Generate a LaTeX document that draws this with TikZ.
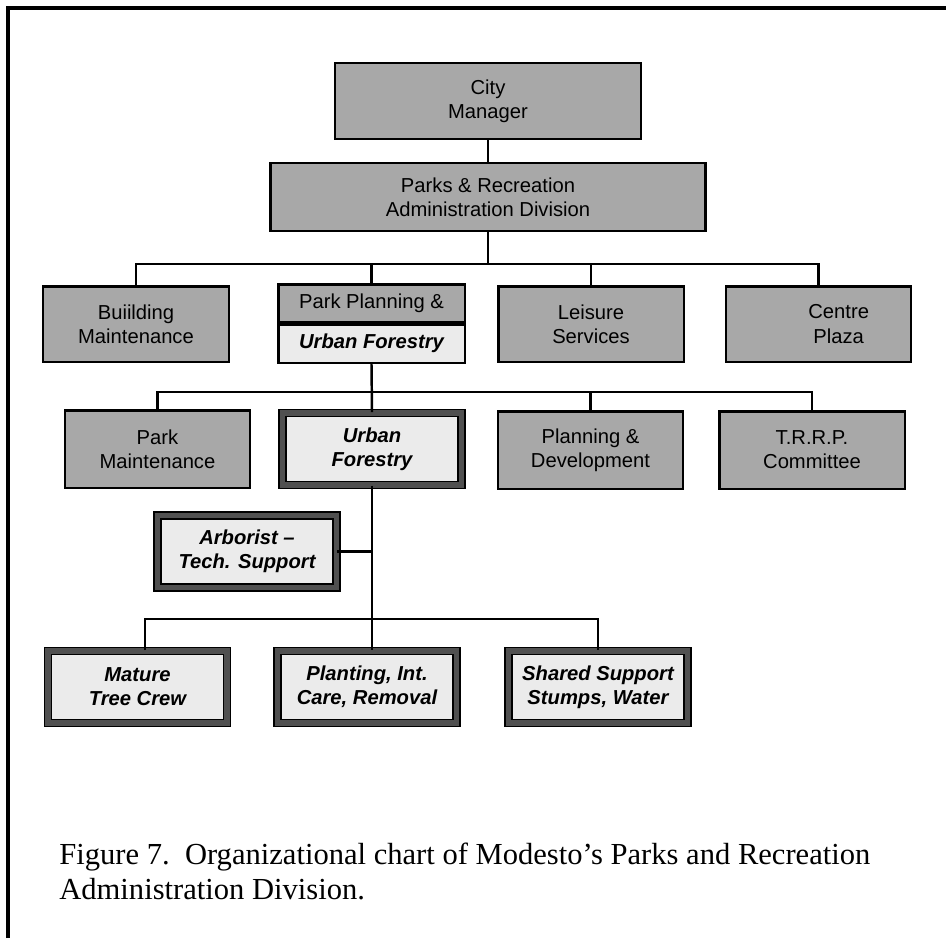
\documentclass[tikz,border=0pt]{standalone}
\usepackage{fontspec}
\setmainfont{Liberation Serif}
\newfontfamily\boxfont{Liberation Sans}
\usepackage{tikz}
\definecolor{boxgray}{RGB}{168,168,168}
\definecolor{palegray}{RGB}{235,235,235}
\definecolor{bandgray}{RGB}{80,80,80}
\tikzstyle{gbox}=[draw=black, line width=1.4pt, fill=boxgray, inner sep=0pt,
                  align=center, font=\boxfont\fontsize{11.5}{13.8}\selectfont]
\tikzstyle{fbox}=[draw=black, line width=1pt, double=bandgray, double distance=3pt,
                  fill=palegray, inner sep=0pt, align=center,
                  font=\boxfont\fontsize{11.5}{13.8}\selectfont\bfseries\itshape,
                  minimum width=3.58cm, minimum height=1.44cm]
\tikzstyle{conn}=[draw=black, line width=1.4pt]
\begin{document}
\begin{tikzpicture}[x=0.02cm, y=-0.02cm]

      \useasboundingbox (0,0) rectangle (946,938);
      \draw[line width=2pt] (8,938) -- (8,8) -- (946,8);

      \node[gbox, minimum width=6.13cm, minimum height=1.51cm] (cm) at (488,101) {City\\Manager};
      \node[gbox, minimum width=8.7cm, minimum height=1.35cm] (pr) at (488,197) {Parks \& Recreation\\Administration Division};

      \node[gbox, minimum width=3.71cm, minimum height=1.51cm] (bm) at (136,324) {Buiilding\\Maintenance};
      \node[gbox, minimum width=3.73cm, minimum height=0.76cm, anchor=south] (pp) at (371.5,323.5) {\raisebox{-1.2ex}{Park Planning \&}};
      \node[gbox, fill=palegray, minimum width=3.73cm, minimum height=0.76cm, anchor=north,
            font=\boxfont\fontsize{11.5}{13.8}\selectfont\bfseries\itshape] (ppu) at (371.5,323.5) {Urban Forestry};
      \node[gbox, minimum width=3.71cm, minimum height=1.51cm] (ls) at (591,324) {Leisure\\Services};
      \node[gbox, minimum width=3.71cm, minimum height=1.51cm] (cp) at (818.5,324) {\hspace{2em}Centre\\\hspace{2em}Plaza};

      \node[gbox, minimum width=3.71cm, minimum height=1.55cm] (pm) at (157.5,449) {Park\\Maintenance};
      \node[fbox] (uf) at (372,449) {Urban\\Forestry};
      \node[gbox, minimum width=3.71cm, minimum height=1.55cm] (pd) at (590.5,450) {Planning \&\\Development};
      \node[gbox, minimum width=3.71cm, minimum height=1.55cm] (tr) at (812,450) {T.R.R.P.\\Committee};

      \node[fbox] (ar) at (247,551.5) {Arborist –\\Tech. Support};

      \node[fbox] (mt) at (137.5,687) {Mature\\Tree Crew};
      \node[fbox] (pl) at (367,687) {Planting, Int.\\Care, Removal};
      \node[fbox] (ss) at (598,687) {Shared Support\\Stumps, Water};

      \coordinate (bar1) at (0,264);
      \coordinate (bar2) at (0,392);
      \coordinate (bar3) at (0,619);

      \draw[conn] (cm.south) -- (pr.north);
      \draw[conn] (pr.south) -- (pr.south |- bar1);
      \draw[conn] (bm.north) -- (bm.north |- bar1) -| (cp.north);
      \draw[conn] (pp.north) -- (pp.north |- bar1);
      \draw[conn] (ls.north) -- (ls.north |- bar1);

      \draw[conn] (ppu.south) -- (uf.north);
      \draw[conn] (pm.north) -- (pm.north |- bar2) -| (tr.north);
      \draw[conn] (pd.north) -- (pd.north |- bar2);

      \draw[conn] (uf.south) -- (uf.south |- pl.north);
      \draw[conn] (ar.east) -- (ar.east -| uf.south);
      \draw[conn] (mt.north -| 145,0) -- (145,619) -| (ss.north);

      \node[anchor=base west, inner sep=0pt, font=\fontsize{17.4}{20.5}\selectfont] (cap1) at (59,864)
        {Figure 7.\ \ Organizational chart of Modesto’s Parks and Recreation};
      \node[anchor=base west, inner sep=0pt, font=\fontsize{17.4}{20.5}\selectfont] (cap2) at (59,899)
        {Administration Division.};
    \end{tikzpicture}
\end{document}
